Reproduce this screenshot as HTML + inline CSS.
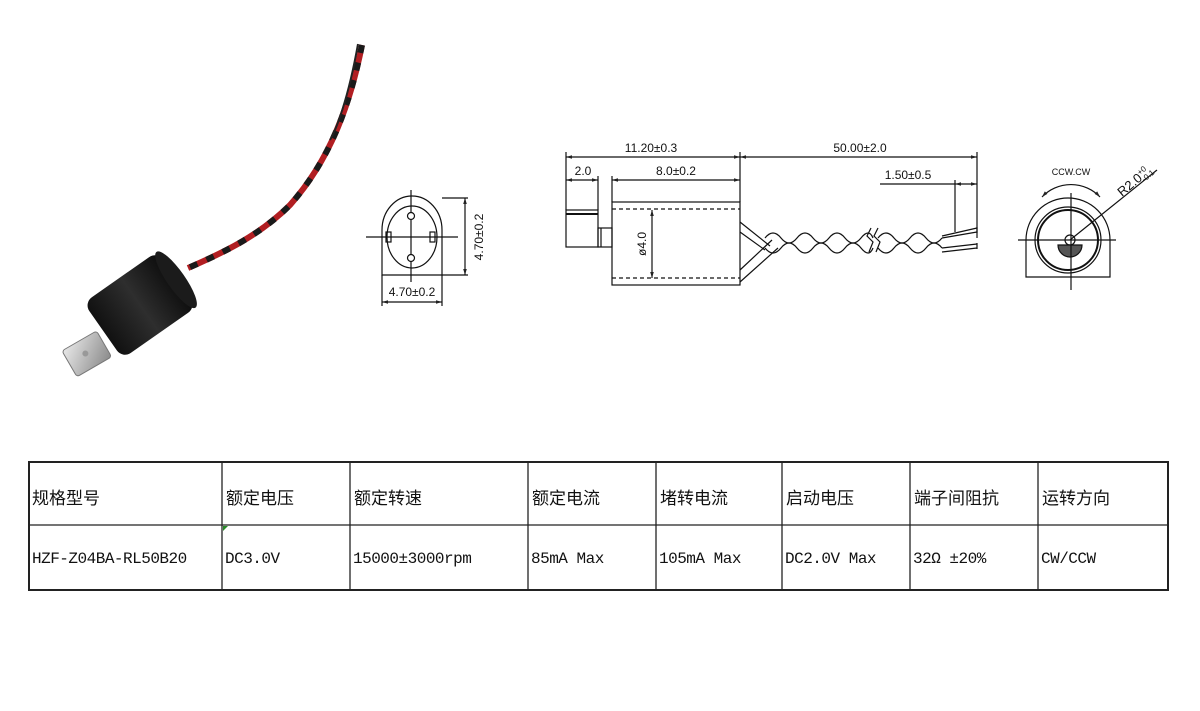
<!DOCTYPE html>
<html><head><meta charset="utf-8"><style>
html,body{margin:0;padding:0;background:#fff;}
#wrap{position:relative;width:1200px;height:711px;overflow:hidden;background:#fff;}
svg{position:absolute;left:0;top:0;}
.t{position:absolute;font-size:17px;white-space:nowrap;}
.h{font-family:"Liberation Sans","Noto Sans CJK SC",sans-serif;top:484px;color:#111;}
.d{font-family:"Liberation Mono","Noto Serif CJK SC",monospace;top:550px;font-size:16px;letter-spacing:-0.5px;color:#111;}
</style></head><body><div id="wrap">
<svg width="1200" height="711" viewBox="0 0 1200 711">
<defs>
<marker id="a" viewBox="0 0 10 10" refX="10" refY="5" markerWidth="7" markerHeight="5" orient="auto-start-reverse"><path d="M0,2 L10,5 L0,8 z" fill="#222"/></marker>
<linearGradient id="cyl" x1="0" y1="0" x2="1" y2="0"><stop offset="0" stop-color="#111"/><stop offset=".5" stop-color="#2e2e2e"/><stop offset="1" stop-color="#0c0c0c"/></linearGradient>
<linearGradient id="met" x1="0" y1="0" x2="1" y2="1"><stop offset="0" stop-color="#e8e8e8"/><stop offset="1" stop-color="#8a8a8a"/></linearGradient>
</defs>
<!-- photo wires -->
<path d="M362,45 C350,105 330,160 290,205 C260,235 225,252 188,268" stroke="#b11e22" stroke-width="6" fill="none"/>
<path d="M362,45 C350,105 330,160 290,205 C260,235 225,252 188,268" stroke="#1a1a1a" stroke-width="6" fill="none" stroke-dasharray="8 10"/>
<path d="M358,44 C348,100 336,130 330,140" stroke="#222" stroke-width="2" fill="none"/>
<!-- cylinder -->
<g transform="translate(140,305) rotate(-35)">
<rect x="-45" y="-34" width="90" height="68" rx="10" fill="url(#cyl)"/>
<ellipse cx="44" cy="0" rx="9" ry="34" fill="#1b1b1b"/>
</g>
<!-- bracket -->
<g transform="translate(88,352) rotate(-30)">
<rect x="-22" y="-14" width="40" height="30" rx="3" fill="url(#met)" stroke="#777" stroke-width="1"/>
<circle cx="-3" cy="0" r="3" fill="#999"/>
</g>
<g stroke="#111" fill="none" stroke-width="1.2">
<!-- front view -->
<path d="M382,275 L382,230 A30,34 0 0 1 442,230 L442,275 Z"/>
<ellipse cx="412" cy="237" rx="25" ry="31"/>
<line x1="411" y1="190" x2="411" y2="282"/><line x1="366" y1="237" x2="458" y2="237"/>
<circle cx="411" cy="216" r="3.5" fill="#fff"/><circle cx="411" cy="258" r="3.5" fill="#fff"/>
<rect x="386" y="232" width="5" height="10"/><rect x="430" y="232" width="5" height="10"/>
<line x1="442" y1="198" x2="468" y2="198"/><line x1="442" y1="275" x2="468" y2="275"/>
<line x1="465" y1="198" x2="465" y2="275" marker-start="url(#a)" marker-end="url(#a)"/>
<line x1="382" y1="275" x2="382" y2="306"/><line x1="442" y1="275" x2="442" y2="306"/>
<line x1="382" y1="302" x2="442" y2="302" marker-start="url(#a)" marker-end="url(#a)"/>
<!-- side view -->
<line x1="566" y1="152" x2="566" y2="210"/><line x1="740" y1="152" x2="740" y2="202"/><line x1="977" y1="152" x2="977" y2="238"/>
<line x1="598" y1="176" x2="598" y2="210"/><line x1="612" y1="176" x2="612" y2="202"/><line x1="955" y1="180" x2="955" y2="232"/>
<line x1="566" y1="157" x2="740" y2="157" marker-start="url(#a)" marker-end="url(#a)"/>
<line x1="740" y1="157" x2="977" y2="157" marker-start="url(#a)" marker-end="url(#a)"/>
<line x1="566" y1="180" x2="598" y2="180" marker-start="url(#a)" marker-end="url(#a)"/>
<line x1="612" y1="180" x2="740" y2="180" marker-start="url(#a)" marker-end="url(#a)"/>
<line x1="880" y1="184" x2="955" y2="184"/><line x1="955" y1="184" x2="977" y2="184" marker-start="url(#a)" marker-end="url(#a)"/>
<rect x="566" y="210" width="32" height="37"/><line x1="566" y1="214" x2="598" y2="214" stroke-width="2"/>
<rect x="598" y="228" width="14" height="19"/><line x1="601" y1="228" x2="601" y2="247"/>
<rect x="612" y="202" width="128" height="83"/>
<line x1="612" y1="209" x2="740" y2="209" stroke-dasharray="4 3"/><line x1="612" y1="278" x2="740" y2="278" stroke-dasharray="4 3"/>
<line x1="652" y1="210" x2="652" y2="278" marker-start="url(#a)" marker-end="url(#a)"/>
<!-- wires -->
<path d="M740,222 L770,246"/><path d="M740,232 L765,250"/>
<path d="M740,270 L772,240"/><path d="M740,282 L778,248"/>
<path d="M765,238 q8,-10 16,0 t16,0 t16,0 t16,0 t16,0 t16,0 t12,0"/>
<path d="M765,248 q8,10 16,0 t16,0 t16,0 t16,0 t16,0 t16,0 t12,0"/>
<path d="M878,238 q8,-10 16,0 t16,0 t16,0 t16,0"/>
<path d="M878,248 q8,10 16,0 t16,0 t16,0 t16,0"/>
<path d="M871,228 l-4,8 l6,6 l-4,10"/><path d="M878,228 l-4,8 l6,6 l-4,10"/>
<path d="M942,238 L977,232"/><path d="M942,236 L977,228"/>
<path d="M942,248 L977,244"/><path d="M942,252 L977,248"/>
<line x1="977" y1="227" x2="977" y2="233"/><line x1="977" y1="243" x2="977" y2="249"/>
<!-- right view -->
<path d="M1026,277 L1026,240 A42,42 0 0 1 1110,240 L1110,277 Z"/>
<circle cx="1068" cy="240" r="33"/><circle cx="1068" cy="240" r="30" stroke-width="2"/>
<circle cx="1070" cy="240" r="5"/>
<path d="M1058,245 L1082,245 A12,12 0 0 1 1058,245 Z" fill="#555"/>
<line x1="1071" y1="193" x2="1071" y2="290"/><line x1="1018" y1="240" x2="1116" y2="240"/>
<line x1="1070" y1="240" x2="1157" y2="170"/>
<path d="M1042,197 A40,40 0 0 1 1100,197" marker-start="url(#a)" marker-end="url(#a)"/>
</g>
<g font-family="Liberation Sans,sans-serif" font-size="12" fill="#111">
<text x="651" y="152" text-anchor="middle">11.20±0.3</text>
<text x="860" y="152" text-anchor="middle">50.00±2.0</text>
<text x="583" y="175" text-anchor="middle">2.0</text>
<text x="676" y="175" text-anchor="middle">8.0±0.2</text>
<text x="908" y="179" text-anchor="middle">1.50±0.5</text>
<text x="412" y="296" text-anchor="middle">4.70±0.2</text>
<text transform="translate(483,237) rotate(-90)" text-anchor="middle">4.70±0.2</text>
<text transform="translate(646,244) rotate(-90)" text-anchor="middle">ø4.0</text>
<text x="1071" y="175" text-anchor="middle" font-size="9">CCW.CW</text>
<text transform="translate(1122,197) rotate(-40)" font-size="13">R2.0<tspan font-size="8" dy="-5">+0</tspan><tspan font-size="8" dx="-10" dy="8">-0.1</tspan></text>
</g>
<!-- table -->
<g stroke="#222" stroke-width="1.3" fill="none">
<rect x="29" y="462" width="1139" height="128" stroke-width="2"/>
<line x1="29" y1="525" x2="1168" y2="525"/>
<line x1="222" y1="462" x2="222" y2="590"/><line x1="350" y1="462" x2="350" y2="590"/>
<line x1="528" y1="462" x2="528" y2="590"/><line x1="656" y1="462" x2="656" y2="590"/>
<line x1="782" y1="462" x2="782" y2="590"/><line x1="910" y1="462" x2="910" y2="590"/>
<line x1="1038" y1="462" x2="1038" y2="590"/>
</g>
<path d="M223,526 l5,0 l-5,5 z" fill="#2a8a2a"/>
</svg>
<div class="t h" style="left:32px">规格型号</div>
<div class="t h" style="left:226px">额定电压</div>
<div class="t h" style="left:354px">额定转速</div>
<div class="t h" style="left:532px">额定电流</div>
<div class="t h" style="left:660px">堵转电流</div>
<div class="t h" style="left:786px">启动电压</div>
<div class="t h" style="left:914px">端子间阻抗</div>
<div class="t h" style="left:1042px">运转方向</div>
<div class="t d" style="left:32px">HZF-Z04BA-RL50B20</div>
<div class="t d" style="left:225px">DC3.0V</div>
<div class="t d" style="left:353px">15000±3000rpm</div>
<div class="t d" style="left:531px">85mA Max</div>
<div class="t d" style="left:659px">105mA Max</div>
<div class="t d" style="left:785px">DC2.0V Max</div>
<div class="t d" style="left:913px">32Ω ±20%</div>
<div class="t d" style="left:1041px">CW/CCW</div>
</div></body></html>
